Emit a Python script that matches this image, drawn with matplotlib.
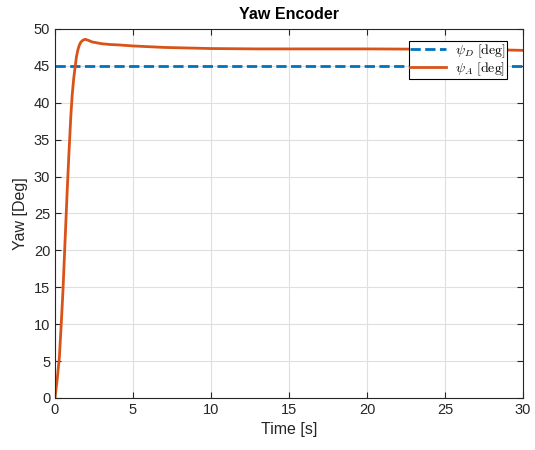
import matplotlib
matplotlib.use("Agg")
import matplotlib.pyplot as plt
import numpy as np

plt.rcParams['font.family'] = ['Liberation Sans', 'DejaVu Sans']
plt.rcParams['mathtext.fontset'] = 'cm'

t_desired = [0, 30]
psi_desired = [45, 45]

t_actual = [0, 0.14, 0.28, 0.4, 0.51, 0.6, 0.69, 0.78, 0.89, 1.01, 1.1, 1.2, 1.3, 1.38, 1.47,
            1.56, 1.65, 1.8, 1.94, 2.15, 2.37, 3.0, 3.5, 4.0, 5.0, 6.0, 7.0, 10.0, 13.0,
            20.0, 25.0, 28.0, 30.0]
psi_actual = [0, 2.5, 5.5, 10, 14.5, 19, 23.5, 28, 33, 38, 41, 43.3, 45, 46.3, 47.2,
              47.8, 48.2, 48.5, 48.6, 48.45, 48.25, 48.0, 47.9, 47.85, 47.7, 47.6, 47.5, 47.35, 47.3,
              47.3, 47.25, 47.2, 47.1]

xticks = [0, 5, 10, 15, 20, 25, 30]
yticks = [0, 5, 10, 15, 20, 25, 30, 35, 40, 45, 50]

fig = plt.figure(figsize=(5.35, 4.5), dpi=100)
ax = fig.add_axes([0.1028, 0.1156, 0.8748, 0.82])

ax.plot(t_desired, psi_desired, '--', color='#0072BD', lw=2, label=r'$\psi_D\ \mathrm{[deg]}$')
ax.plot(t_actual, psi_actual, '-', color='#D95319', lw=2, label=r'$\psi_A\ \mathrm{[deg]}$')

ax.set_xlim(0, 30)
ax.set_ylim(0, 50)
ax.set_xticks(xticks)
ax.set_yticks(yticks)
ax.grid(True, color='#dfdfdf', lw=0.8)
ax.set_axisbelow(True)
ax.tick_params(direction='in', top=True, right=True, labelsize=10.5, colors='#262626', length=4)
for s in ax.spines.values():
    s.set_color('#262626')
    s.set_linewidth(0.8)

ax.set_xlabel('Time [s]', fontsize=11.5, color='#262626')
ax.set_ylabel('Yaw [Deg]', fontsize=11.5, color='#262626')
ax.set_title('Yaw Encoder', fontsize=11.5, fontweight='bold', color='black', pad=7)

leg = ax.legend(loc='upper right', bbox_to_anchor=(0.966, 0.968), fontsize=10,
                frameon=True, fancybox=False, edgecolor='black', framealpha=1,
                borderpad=0.12, handlelength=2.6, labelspacing=0.0, borderaxespad=0,
                handletextpad=0.6)
leg.get_frame().set_linewidth(0.8)

fig.savefig('out.png', dpi=100)
